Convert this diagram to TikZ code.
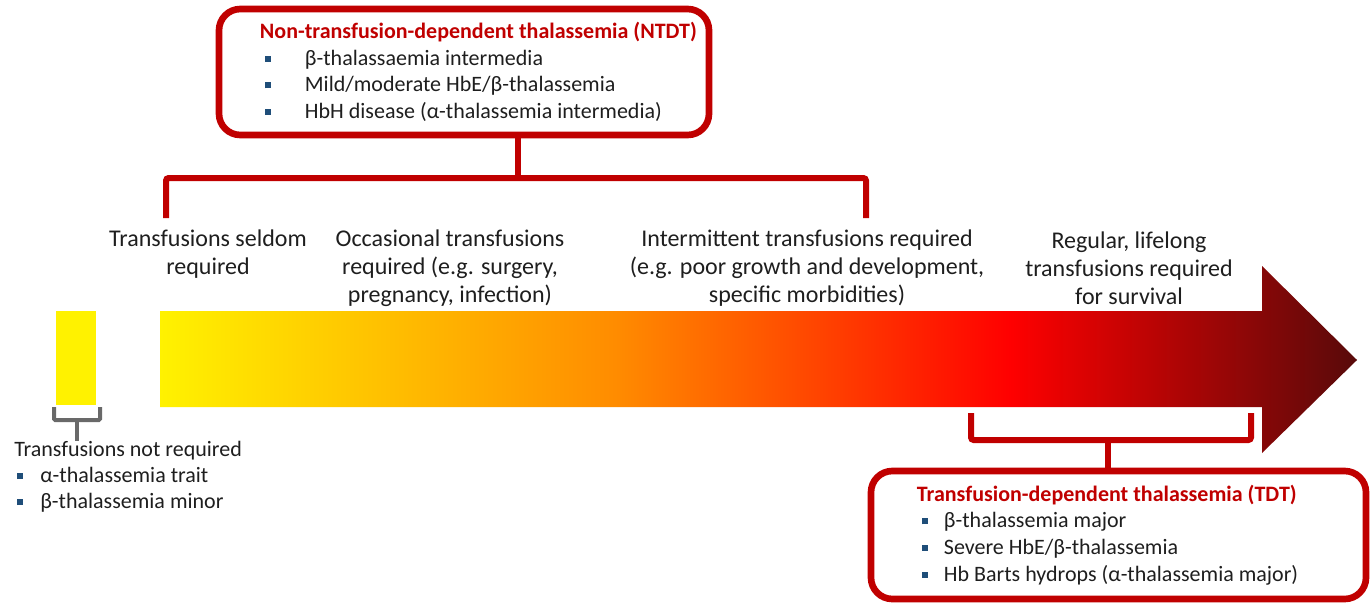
\documentclass[tikz,border=0pt]{standalone}
\usepackage{fontspec}
\setmainfont{Carlito}
\usetikzlibrary{calc}
\definecolor{ntdtred}{RGB}{192,0,0}
\definecolor{bulletblue}{RGB}{31,78,121}
\definecolor{textgray}{RGB}{30,30,30}
\definecolor{bracegray}{RGB}{105,105,105}
\definecolor{sevyellow}{RGB}{255,242,0}
\definecolor{sevorange}{RGB}{255,140,0}
\definecolor{sevred}{RGB}{255,0,0}
\definecolor{sevdark}{RGB}{88,10,10}
\pgfdeclarehorizontalshading{severity}{100bp}{color(0bp)=(sevyellow); color(25bp)=(sevyellow); color(44bp)=(sevorange); color(60.5bp)=(sevred); color(75bp)=(sevdark); color(100bp)=(sevdark)}
\newcommand{\blt}[1]{\makebox[#1][l]{\textcolor{bulletblue}{\rule[0.35ex]{4.5pt}{4.5pt}}}}

\begin{document}
\begin{tikzpicture}[x=0.75pt,y=-0.75pt,
	catbox/.style={draw=ntdtred, line width=5pt, rounded corners=16pt, inner sep=0pt},
	bracket/.style={draw=ntdtred, line width=4.5pt, rounded corners=2pt},
	label/.style={align=center, inner sep=0pt, text=textgray, font=\fontsize{18}{21}\selectfont},
	listtext/.style={align=left, anchor=west, inner sep=0pt, text=textgray, font=\fontsize{16.5}{20}\selectfont}]
		%%%%% START %%%%%
		
		\useasboundingbox (0,0) rectangle (1370,604);
		
		% severity arrow
		\shade[shading=severity] (160,311) -- (1262,311) -- (1262,266) -- (1357,360)
			-- (1262,453) -- (1262,407) -- (160,407) -- cycle;
		\fill[yellow] (56,311) rectangle (96,405);
		
		\node[label] (seldom) at (208,254) {Transfusions seldom\\required};
		\node[label] (occasional) at (450,268) {Occasional transfusions\\required (e.g. surgery,\\pregnancy, infection)};
		\node[label] (intermittent) at (807,268) {Intermittent transfusions required\\(e.g. poor growth and development,\\specific morbidities)};
		\node[label] (regular) at (1129,268) {Regular, lifelong\\transfusions required\\for survival};
		
		% NTDT box
		\node[catbox, minimum width=367.5pt, minimum height=94.5pt] (ntdt) at (464,72) {};
		\node[listtext] (ntdt-list) at ($(ntdt.west)+(44,0)$)
			{\textcolor{ntdtred}{\bfseries Non-transfusion-dependent thalassemia (NTDT)}\\
			\hspace*{3.75pt}\blt{30pt}β-thalassaemia intermedia\\
			\hspace*{3.75pt}\blt{30pt}Mild/moderate HbE/β-thalassemia\\
			\hspace*{3.75pt}\blt{30pt}HbH disease (α-thalassemia intermedia)};
		\coordinate (ntdt-l) at (166,218);
		\coordinate (ntdt-r) at (866,218);
		\coordinate (ntdt-bar) at (518,178);
		\draw[bracket] (ntdt-l) |- (ntdt-bar) -| (ntdt-r);
		\draw[bracket] (ntdt.south -| ntdt-bar) -- (ntdt-bar);
		
		% TDT box
		\node[catbox, minimum width=371.25pt, minimum height=96pt] (tdt) at (1118.5,535) {};
		\node[listtext] (tdt-list) at ($(tdt.west)+(49,0)$)
			{\textcolor{ntdtred}{\bfseries Transfusion-dependent thalassemia (TDT)}\\
			\hspace*{3.75pt}\blt{16.5pt}β-thalassemia major\\
			\hspace*{3.75pt}\blt{16.5pt}Severe HbE/β-thalassemia\\
			\hspace*{3.75pt}\blt{16.5pt}Hb Barts hydrops (α-thalassemia major)};
		\coordinate (tdt-l) at (971,413);
		\coordinate (tdt-r) at (1251,413);
		\coordinate (tdt-bar) at (1108,440);
		\draw[bracket] (tdt-l) |- (tdt-bar) -| (tdt-r);
		\draw[bracket] (tdt-bar) -- (tdt.north -| tdt-bar);
		
		% not required
		\node[listtext, font=\fontsize{16.5}{19.5}\selectfont] (notreq) at (14,477)
			{Transfusions not required\\
			\hspace*{2.25pt}\blt{17.25pt}α-thalassemia trait\\
			\hspace*{2.25pt}\blt{17.25pt}β-thalassemia minor};
		\coordinate (brace-l) at (54,407);
		\coordinate (brace-r) at (100,407);
		\coordinate (brace-bar) at (77,420);
		\draw[bracegray, line width=3pt, rounded corners=1pt] (brace-l) |- (brace-bar) -| (brace-r);
		\draw[bracegray, line width=3pt] (brace-bar) -- (notreq.north -| brace-bar);
		
		%%%%% END %%%%%
\end{tikzpicture}
\end{document}
